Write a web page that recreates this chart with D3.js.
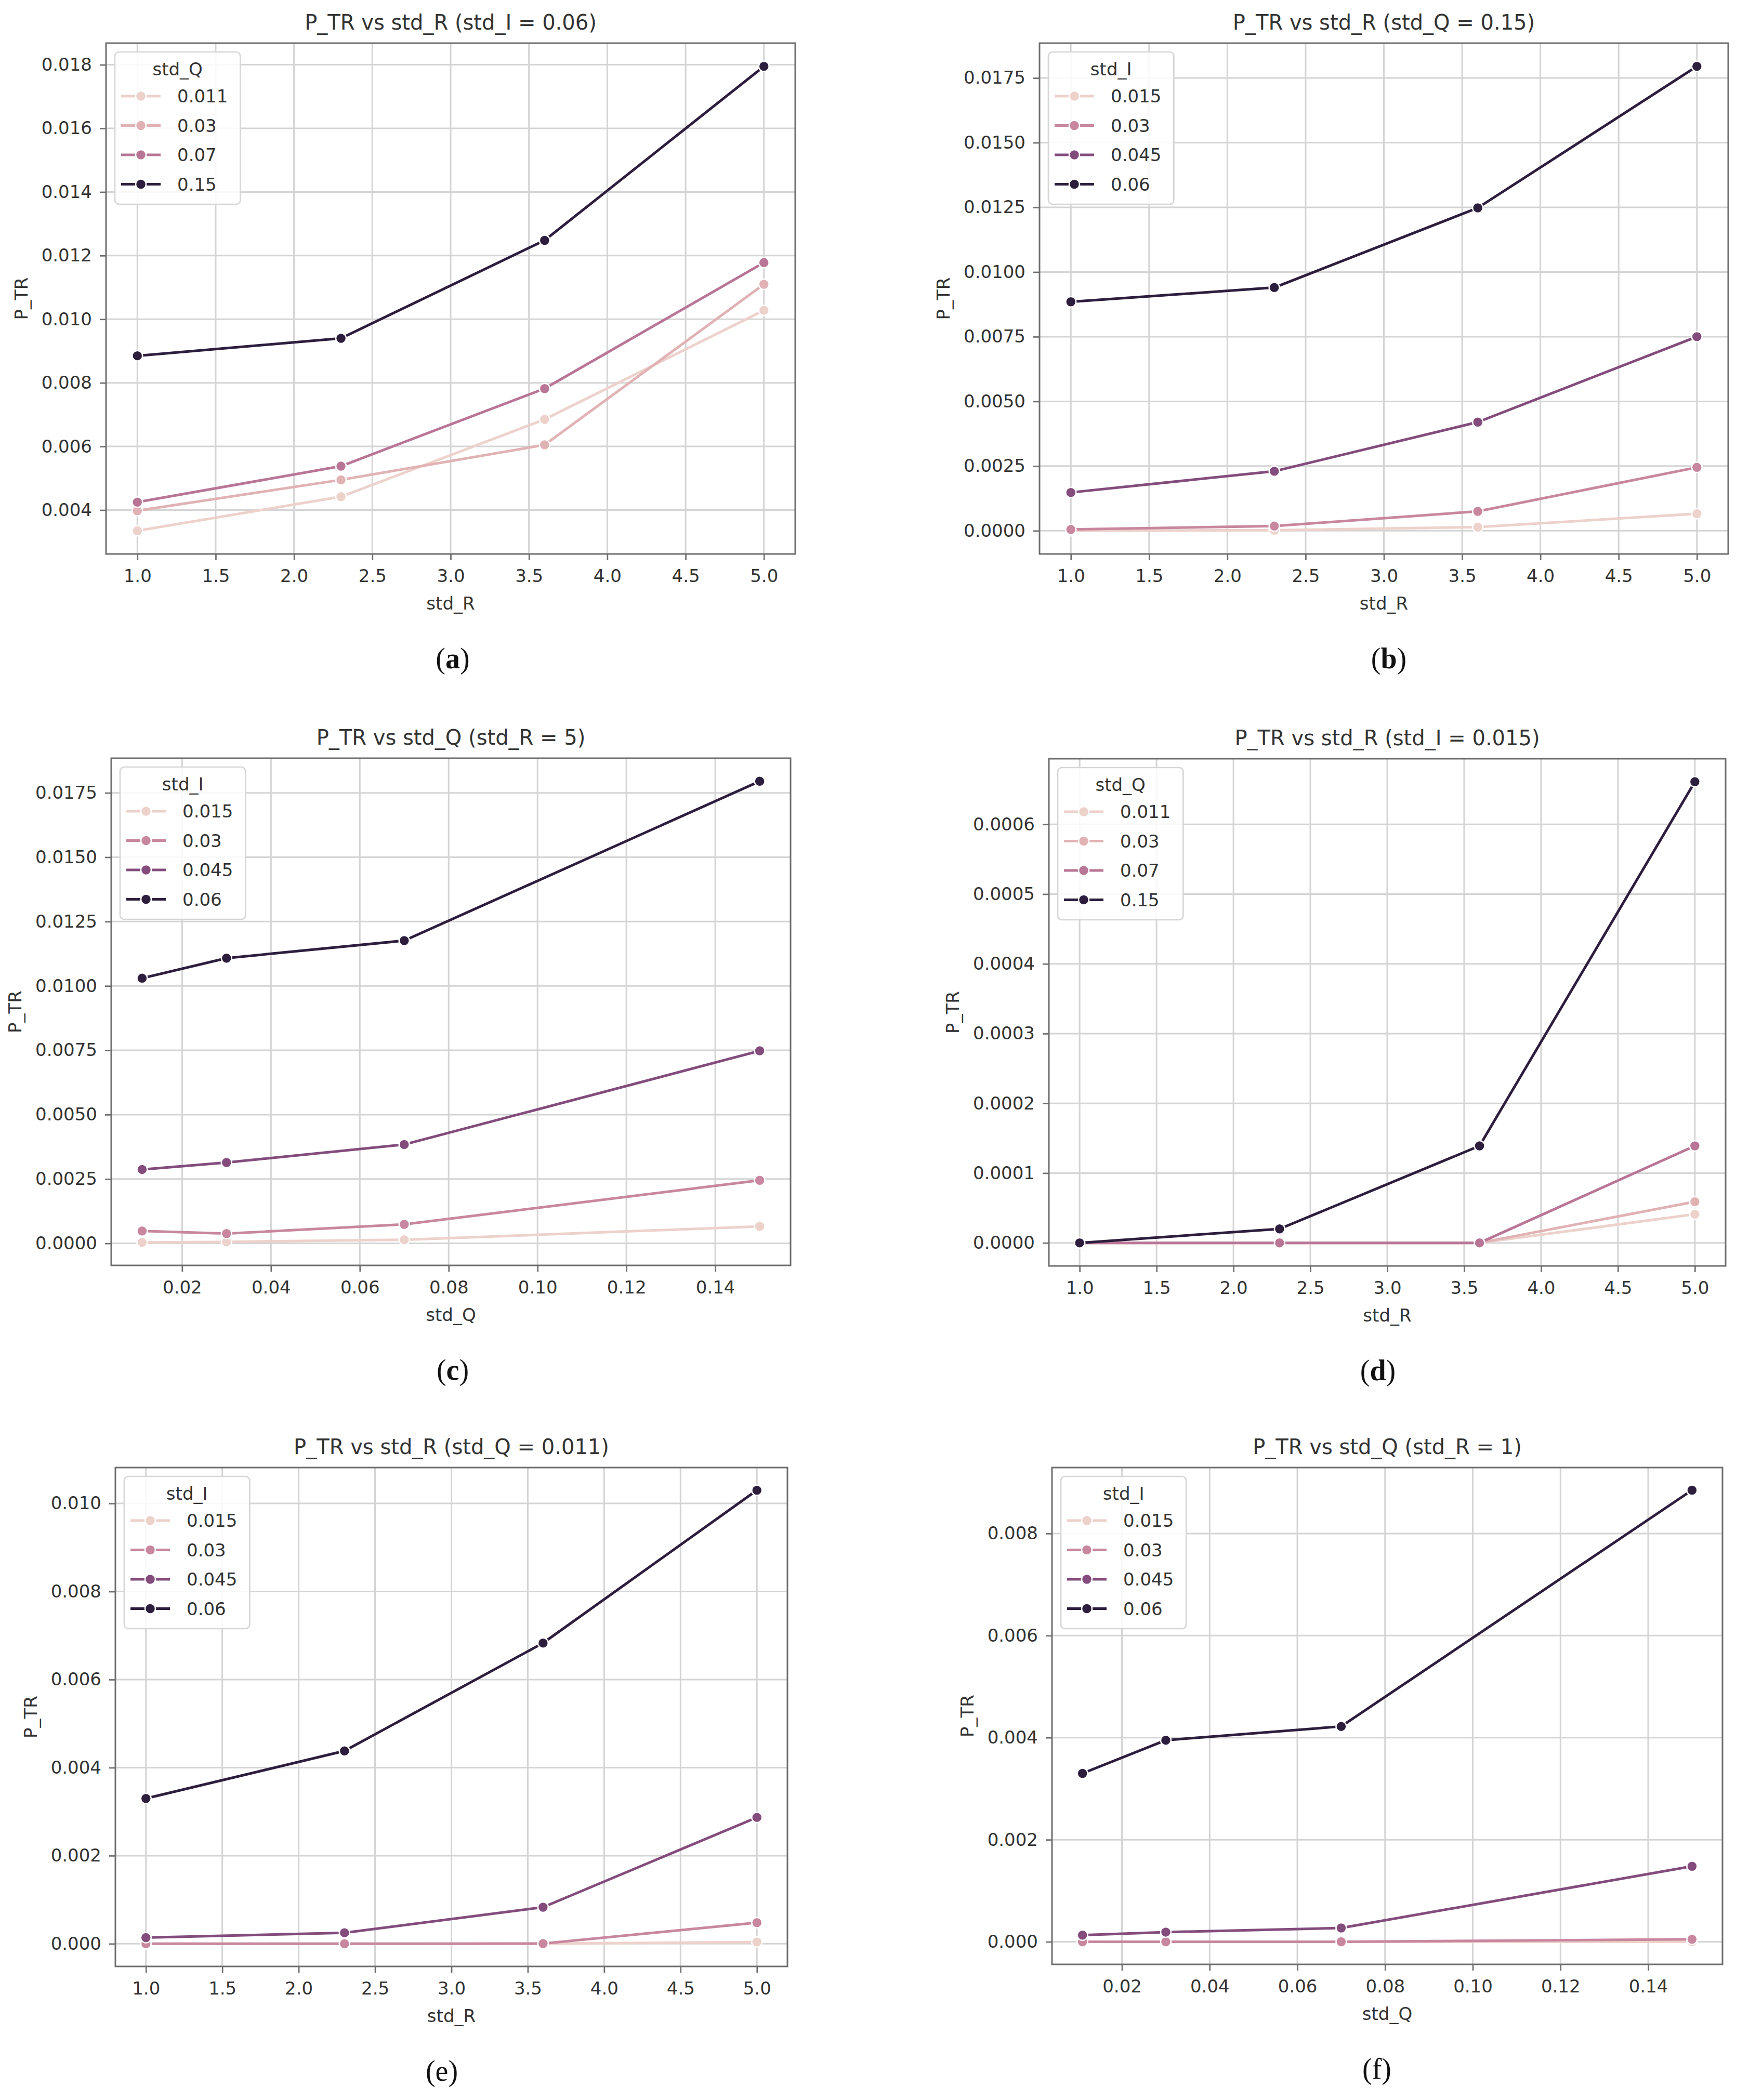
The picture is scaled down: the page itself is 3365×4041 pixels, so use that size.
<!DOCTYPE html>
<html>
<head>
<meta charset="utf-8">
<script src="https://cdn.jsdelivr.net/npm/d3@7"></script>
<style>
  body { margin: 0; background: #fff; }
</style>
</head>
<body>
<svg id="chart"></svg>
<script>
const WIDTH = 3365;
const HEIGHT = 4041;
const FONT = '"DejaVu Sans", sans-serif';
const TEXT_COLOR = '#333';
const GRID_COLOR = '#d4d4d4';
const FRAME_COLOR = '#6e6e6e';

// nilai sumbu x dan level hue
const STD_R = [1.0, 2.3, 3.6, 5.0];
const STD_Q = [0.011, 0.03, 0.07, 0.15];
const STD_I = [0.015, 0.03, 0.045, 0.06];

const TICKS_R = [1.0, 1.5, 2.0, 2.5, 3.0, 3.5, 4.0, 4.5, 5.0];
const TICKS_Q = [0.02, 0.04, 0.06, 0.08, 0.10, 0.12, 0.14];

// (a) P_TR vs std_R, std_I = 0.06, satu baris per std_Q
const PTR_A = [
    [0.00335, 0.00442, 0.00685, 0.01028],
    [0.00398, 0.00495, 0.00605, 0.01110],
    [0.00425, 0.00538, 0.00782, 0.01178],
    [0.00885, 0.00940, 0.01248, 0.01795]
];
const YTICKS_A = [0.004, 0.006, 0.008, 0.010, 0.012, 0.014, 0.016, 0.018];

// (b) P_TR vs std_R, std_Q = 0.15, satu baris per std_I
const PTR_B = [
    [0.00000, 0.00002, 0.00014, 0.00066],
    [0.00005, 0.00018, 0.00075, 0.00245],
    [0.00148, 0.00230, 0.00420, 0.00750],
    [0.00885, 0.00940, 0.01248, 0.01795]
];
const YTICKS_B = [0, 0.0025, 0.005, 0.0075, 0.01, 0.0125, 0.015, 0.0175];

// (c) P_TR vs std_Q, std_R = 5, satu baris per std_I
const PTR_C = [
    [0.00004, 0.00006, 0.00014, 0.00066],
    [0.00048, 0.00038, 0.00074, 0.00245],
    [0.00287, 0.00314, 0.00384, 0.00748],
    [0.01030, 0.01108, 0.01176, 0.01795]
];
const YTICKS_C = [0, 0.0025, 0.005, 0.0075, 0.01, 0.0125, 0.015, 0.0175];

// (d) P_TR vs std_R, std_I = 0.015, satu baris per std_Q
const PTR_D = [
    [0, 0, 0, 0.000041],
    [0, 0, 0, 0.000059],
    [0, 0, 0, 0.000139],
    [0, 0.000020, 0.000139, 0.000661]
];
const YTICKS_D = [0, 0.0001, 0.0002, 0.0003, 0.0004, 0.0005, 0.0006];

// (e) P_TR vs std_R, std_Q = 0.011, satu baris per std_I
const PTR_E = [
    [0, 0, 0, 0.000041],
    [0, 0, 0.000005, 0.00048],
    [0.00014, 0.00025, 0.00083, 0.00287],
    [0.00330, 0.00438, 0.00683, 0.01030]
];
const YTICKS_E = [0, 0.002, 0.004, 0.006, 0.008, 0.010];

// (f) P_TR vs std_Q, std_R = 1, satu baris per std_I
const PTR_F = [
    [0, 0, 0, 0],
    [0, 0, 0, 0.00005],
    [0.00013, 0.00019, 0.00027, 0.00148],
    [0.00330, 0.00395, 0.00422, 0.00885]
];
const YTICKS_F = [0, 0.002, 0.004, 0.006, 0.008];

const PANELS = [
    { title: 'P_TR vs std_R (std_I = 0.06)', xName: 'std_R', hueName: 'std_Q', xs: STD_R, hues: STD_Q, ys: PTR_A,
      xTicks: TICKS_R, yTicks: YTICKS_A, xFmt: '.1f', yFmt: '.3f', box: [204, 83, 1530, 1066], letter: 'a', capX: 871, bold: true },
    { title: 'P_TR vs std_R (std_Q = 0.15)', xName: 'std_R', hueName: 'std_I', xs: STD_R, hues: STD_I, ys: PTR_B,
      xTicks: TICKS_R, yTicks: YTICKS_B, xFmt: '.1f', yFmt: '.4f', box: [2000, 83, 3325, 1066], letter: 'b', capX: 2672, bold: true },
    { title: 'P_TR vs std_Q (std_R = 5)', xName: 'std_Q', hueName: 'std_I', xs: STD_Q, hues: STD_I, ys: PTR_C,
      xTicks: TICKS_Q, yTicks: YTICKS_C, xFmt: '.2f', yFmt: '.4f', box: [214, 1459, 1521, 2435], letter: 'c', capX: 871, bold: true },
    { title: 'P_TR vs std_R (std_I = 0.015)', xName: 'std_R', hueName: 'std_Q', xs: STD_R, hues: STD_Q, ys: PTR_D,
      xTicks: TICKS_R, yTicks: YTICKS_D, xFmt: '.1f', yFmt: '.4f', box: [2018, 1460, 3320, 2436], letter: 'd', capX: 2651, bold: true },
    { title: 'P_TR vs std_R (std_Q = 0.011)', xName: 'std_R', hueName: 'std_I', xs: STD_R, hues: STD_I, ys: PTR_E,
      xTicks: TICKS_R, yTicks: YTICKS_E, xFmt: '.1f', yFmt: '.3f', box: [222, 2824, 1515, 3784], letter: 'e', capX: 850, bold: false },
    { title: 'P_TR vs std_Q (std_R = 1)', xName: 'std_Q', hueName: 'std_I', xs: STD_Q, hues: STD_I, ys: PTR_F,
      xTicks: TICKS_Q, yTicks: YTICKS_F, xFmt: '.2f', yFmt: '.3f', box: [2024, 2824, 3314, 3780], letter: 'f', capX: 2649, bold: false }
];

// Palet cubehelix bawaan seaborn (light=.85, dark=.15, rot=.4)
function cubehelix(x) {
    const a = 0.8 * x * (1 - x) / 2;
    const phi = 2 * Math.PI * (0.4 * x);
    const c = Math.cos(phi), s = Math.sin(phi);
    const clamp = v => Math.max(0, Math.min(1, v));
    const r = clamp(x + a * (-0.14861 * c + 1.78277 * s));
    const g = clamp(x + a * (-0.29227 * c - 0.90649 * s));
    const b = clamp(x + a * (1.97294 * c));
    return d3.rgb(r * 255, g * 255, b * 255).formatHex();
}

function hueColor(value, levels) {
    const t = (value - d3.min(levels)) / (d3.max(levels) - d3.min(levels));
    return cubehelix(0.85 + (0.15 - 0.85) * t);
}

function drawPanel(svg, p) {
    const [x0, y0, x1, y1] = p.box;
    const allY = p.ys.flat();
    const xPad = (d3.max(p.xs) - d3.min(p.xs)) * 0.05;
    const yPad = (d3.max(allY) - d3.min(allY)) * 0.05;
    const x = d3.scaleLinear().domain([d3.min(p.xs) - xPad, d3.max(p.xs) + xPad]).range([x0, x1]);
    const y = d3.scaleLinear().domain([d3.min(allY) - yPad, d3.max(allY) + yPad]).range([y1, y0]);

    const g = svg.append('g');

    // garis grid
    g.append('g').selectAll('line').data(p.xTicks).join('line')
        .attr('x1', d => x(d)).attr('x2', d => x(d))
        .attr('y1', y0).attr('y2', y1)
        .attr('stroke', GRID_COLOR).attr('stroke-width', 3);
    g.append('g').selectAll('line').data(p.yTicks).join('line')
        .attr('x1', x0).attr('x2', x1)
        .attr('y1', d => y(d)).attr('y2', d => y(d))
        .attr('stroke', GRID_COLOR).attr('stroke-width', 3);

    // sumbu
    const xAxis = g.append('g')
        .attr('transform', `translate(0,${y1})`)
        .call(d3.axisBottom(x).tickValues(p.xTicks).tickFormat(d3.format(p.xFmt)).tickSize(12).tickPadding(18));
    const yAxis = g.append('g')
        .attr('transform', `translate(${x0},0)`)
        .call(d3.axisLeft(y).tickValues(p.yTicks).tickFormat(d3.format(p.yFmt)).tickSize(12).tickPadding(15));
    [xAxis, yAxis].forEach(ax => {
        ax.attr('font-size', 34).attr('font-family', FONT);
        ax.select('.domain').remove();
        ax.selectAll('.tick line').attr('stroke', FRAME_COLOR).attr('stroke-width', 2.7);
        ax.selectAll('.tick text').attr('fill', TEXT_COLOR);
    });

    // garis data, satu per level hue
    const line = d3.line().x((d, i) => x(p.xs[i])).y(d => y(d));
    p.ys.forEach((row, k) => {
        const color = hueColor(p.hues[k], p.hues);
        g.append('path')
            .attr('d', line(row))
            .attr('fill', 'none')
            .attr('stroke', color)
            .attr('stroke-width', 5)
            .attr('stroke-linejoin', 'round');
        g.append('g').selectAll('circle').data(row).join('circle')
            .attr('cx', (d, i) => x(p.xs[i]))
            .attr('cy', d => y(d))
            .attr('r', 10)
            .attr('fill', color)
            .attr('stroke', '#fff')
            .attr('stroke-width', 2.5);
    });

    // bingkai
    g.append('rect')
        .attr('x', x0).attr('y', y0)
        .attr('width', x1 - x0).attr('height', y1 - y0)
        .attr('fill', 'none')
        .attr('stroke', FRAME_COLOR)
        .attr('stroke-width', 3);

    // judul dan label sumbu
    g.append('text')
        .attr('x', (x0 + x1) / 2).attr('y', y0 - 26)
        .attr('text-anchor', 'middle')
        .attr('font-family', FONT).attr('font-size', 40).attr('fill', TEXT_COLOR)
        .text(p.title);
    g.append('text')
        .attr('x', (x0 + x1) / 2).attr('y', y1 + 107)
        .attr('text-anchor', 'middle')
        .attr('font-family', FONT).attr('font-size', 34).attr('fill', TEXT_COLOR)
        .text(p.xName);
    const yBox = yAxis.node().getBBox();
    const labelX = x0 + yBox.x - 27;
    g.append('text')
        .attr('transform', `translate(${labelX},${(y0 + y1) / 2}) rotate(-90)`)
        .attr('text-anchor', 'middle')
        .attr('font-family', FONT).attr('font-size', 34).attr('fill', TEXT_COLOR)
        .text('P_TR');

    drawLegend(g, p, x0 + 17, y0 + 17);

    // keterangan (a), (b), ...
    const cap = g.append('text')
        .attr('x', p.capX).attr('y', y1 + 220)
        .attr('text-anchor', 'middle')
        .attr('font-family', '"Liberation Serif", serif').attr('font-size', 56).attr('fill', '#111');
    cap.append('tspan').text('(');
    cap.append('tspan').attr('font-weight', p.bold ? 'bold' : 'normal').text(p.letter);
    cap.append('tspan').text(')');
}

function drawLegend(g, p, lx, ly) {
    const legend = g.append('g').attr('transform', `translate(${lx},${ly})`);
    const bg = legend.append('rect');
    const title = legend.append('text')
        .attr('y', 45)
        .attr('text-anchor', 'middle')
        .attr('font-family', FONT).attr('font-size', 34).attr('fill', TEXT_COLOR)
        .text(p.hueName);
    const items = legend.selectAll('.item').data(p.hues).join('g')
        .attr('class', 'item')
        .attr('transform', (d, i) => `translate(0,${85 + i * 56.5})`);
    items.append('line')
        .attr('x1', 12).attr('x2', 88)
        .attr('stroke', d => hueColor(d, p.hues))
        .attr('stroke-width', 5);
    items.append('circle')
        .attr('cx', 50).attr('r', 10)
        .attr('fill', d => hueColor(d, p.hues))
        .attr('stroke', '#fff').attr('stroke-width', 2.5);
    const labels = items.append('text')
        .attr('x', 120).attr('y', 12)
        .attr('font-family', FONT).attr('font-size', 34).attr('fill', TEXT_COLOR)
        .text(d => String(d));
    let maxW = 0;
    labels.each(function () { maxW = Math.max(maxW, this.getComputedTextLength()); });
    const width = 120 + maxW + 24;
    title.attr('x', width / 2);
    bg.attr('width', width).attr('height', 293)
        .attr('rx', 8)
        .attr('fill', '#fff').attr('fill-opacity', 0.85)
        .attr('stroke', '#d6d6d6').attr('stroke-width', 2.7);
}

const svg = d3.select('#chart')
    .attr('width', WIDTH)
    .attr('height', HEIGHT)
    .style('display', 'block');

svg.append('rect').attr('width', WIDTH).attr('height', HEIGHT).attr('fill', '#fff');

PANELS.forEach(p => drawPanel(svg, p));
</script>
</body>
</html>
